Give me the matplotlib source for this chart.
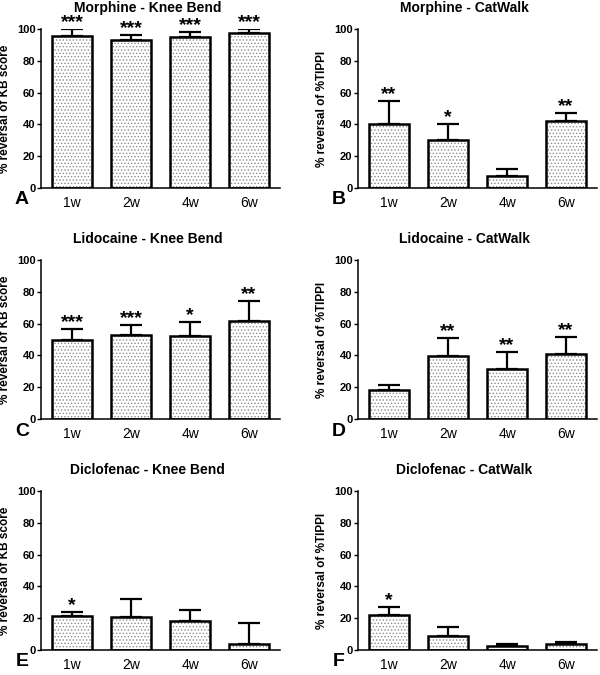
import matplotlib
matplotlib.use('Agg')
import matplotlib.pyplot as plt
import numpy as np

plt.rcParams['font.family'] = ['Liberation Sans', 'DejaVu Sans']
plt.rcParams['hatch.color'] = '#8c8c8c'
plt.rcParams['hatch.linewidth'] = 0.6

weeks = ['1w', '2w', '4w', '6w']

titles = ['Morphine - Knee Bend', 'Morphine - CatWalk',
          'Lidocaine - Knee Bend', 'Lidocaine - CatWalk',
          'Diclofenac - Knee Bend', 'Diclofenac - CatWalk']
letters = ['A', 'B', 'C', 'D', 'E', 'F']
ylabels = ['% reversal of KB score', '% reversal of %TIPPI'] * 3

morphine_kb = [95.4, 92.8, 94.9, 97.3]
morphine_kb_err = [4.6, 3.4, 3.2, 2.5]
morphine_cw = [40.0, 30.5, 7.6, 41.9]
morphine_cw_err = [14.9, 9.5, 4.4, 5.3]
lidocaine_kb = [49.4, 52.9, 51.9, 61.5]
lidocaine_kb_err = [7.5, 6.5, 9.0, 12.8]
lidocaine_cw = [18.4, 39.7, 31.2, 40.6]
lidocaine_cw_err = [3.1, 11.3, 10.8, 10.9]
diclofenac_kb = [21.1, 20.5, 18.0, 4.0]
diclofenac_kb_err = [2.8, 11.8, 7.4, 12.9]
diclofenac_cw = [22.0, 8.7, 2.3, 3.6]
diclofenac_cw_err = [5.3, 5.5, 1.5, 1.5]

morphine_kb_sig = ['***', '***', '***', '***']
morphine_cw_sig = ['**', '*', '', '**']
lidocaine_kb_sig = ['***', '***', '*', '**']
lidocaine_cw_sig = ['', '**', '**', '**']
diclofenac_kb_sig = ['*', '', '', '']
diclofenac_cw_sig = ['*', '', '', '']

values = [morphine_kb, morphine_cw, lidocaine_kb, lidocaine_cw, diclofenac_kb, diclofenac_cw]
errors = [morphine_kb_err, morphine_cw_err, lidocaine_kb_err, lidocaine_cw_err,
          diclofenac_kb_err, diclofenac_cw_err]
sigs = [morphine_kb_sig, morphine_cw_sig, lidocaine_kb_sig, lidocaine_cw_sig,
        diclofenac_kb_sig, diclofenac_cw_sig]

fig = plt.figure(figsize=(6, 6.75), dpi=100)
W, H = 600.0, 675.0
lefts = [41, 358]
bottoms = [188, 419, 650]
ax_w, ax_h = 239, 159

x = np.arange(len(weeks))
for i in range(6):
    row, col = i // 2, i % 2
    ax = fig.add_axes([lefts[col] / W, (H - bottoms[row]) / H, ax_w / W, ax_h / H])
    v = values[i]
    e = errors[i]
    ax.errorbar(x, v, yerr=[np.zeros(4), e], fmt='none', ecolor='black',
                elinewidth=1.6, capsize=8, capthick=1.6, zorder=1)
    ax.bar(x, v, width=0.68, color='white', edgecolor='#8c8c8c', hatch='.....',
           linewidth=0, zorder=2)
    ax.bar(x, v, width=0.68, fill=False, edgecolor='black', linewidth=1.8, zorder=3)
    for xi, vi, ei, s in zip(x, v, e, sigs[i]):
        if s:
            ax.text(xi, vi + ei + 4.0, s, ha='center', va='center', fontsize=14,
                    fontweight='bold', clip_on=False)
    ax.set_xlim(-0.525, 3.525)
    ax.set_ylim(0, 100)
    ax.set_yticks([0, 20, 40, 60, 80, 100])
    ax.set_xticks(x)
    ax.set_xticklabels(weeks, fontsize=10)
    ax.tick_params(axis='x', length=0, pad=6)
    ax.tick_params(axis='y', length=3, width=1, pad=1, labelsize=8)
    for lab in ax.get_yticklabels():
        lab.set_fontweight('bold')
    ax.spines['top'].set_visible(False)
    ax.spines['right'].set_visible(False)
    ax.spines['left'].set_linewidth(1.1)
    ax.spines['bottom'].set_linewidth(1.1)
    ax.text(-36 / ax_w, 0.5, ylabels[i], transform=ax.transAxes, rotation=90,
            ha='center', va='center', fontsize=8.5, fontweight='bold')
    ax.text(0.445, 1 + 21 / ax_h, titles[i], transform=ax.transAxes,
            ha='center', va='center', fontsize=10, fontweight='bold')
    fig.text((lefts[col] - 19) / W, (H - bottoms[row] - 12) / H, letters[i],
             ha='center', va='center', fontsize=14, fontweight='bold')

fig.savefig('out.png', dpi=100)
